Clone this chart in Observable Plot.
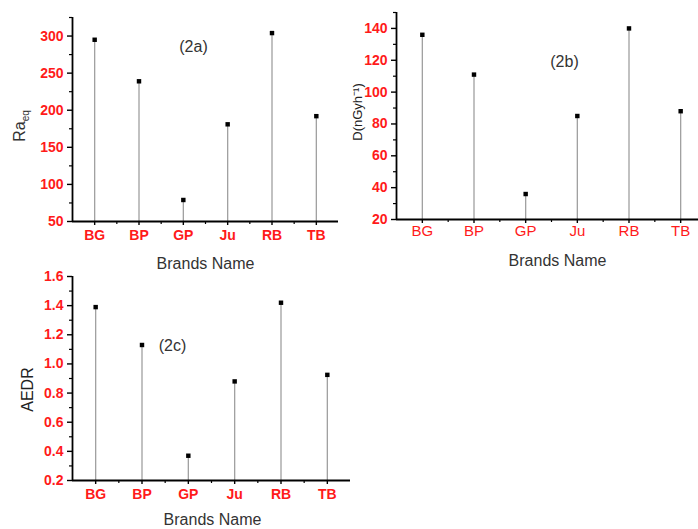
<!DOCTYPE html>
<html><head><meta charset="utf-8">
<script src="https://cdn.jsdelivr.net/npm/d3@7"></script>
<script src="https://cdn.jsdelivr.net/npm/@observablehq/plot@0.6"></script>
<style>
body{margin:0;background:#fff;}
#wrap{position:relative;width:698px;height:529px;overflow:hidden;background:#fff;}
#wrap svg{position:absolute;overflow:visible;}
</style></head><body><div id="wrap"></div>
<script>
const brands = ["BG","BP","GP","Ju","RB","TB"];
const raeq = [295, 239, 79, 181, 304, 192];
const doseRate = [136, 111, 36, 85, 140, 88];
const aedr = [1.39, 1.13, 0.37, 0.88, 1.42, 0.925];
const raTicks = [50, 100, 150, 200, 250, 300];
const doseTicks = [20, 40, 60, 80, 100, 120, 140];
const aedrTicks = [0.2, 0.4, 0.6, 0.8, 1.0, 1.2, 1.4, 1.6];

const FONT = "'Liberation Sans', Arial, Helvetica, sans-serif";
const RED = "#ff1a1a";
const wrap = document.getElementById("wrap");

function panel(o) {
  const data = brands.map((b, i) => ({i, b, v: o.values[i]}));
  const idx = brands.map((_, i) => i);
  const xMinor = brands.slice(1).map((_, i) => i + 0.5);
  const step = o.ticks[1] - o.ticks[0];
  const yMinor = o.ticks.map(t => +(t + step / 2).toFixed(6)).filter(t => t <= o.domain[1] + 1e-9);
  const marks = [
    Plot.ruleX(data, {x: "i", y1: o.domain[0], y2: "v", stroke: "#a0a0a0", strokeWidth: 1.3}),
    Plot.dot(data, {x: "i", y: "v", symbol: "square", r: 2.5, fill: "#000", stroke: "none"}),
    Plot.axisY({ticks: o.ticks, tickSize: 5, tickPadding: 4, tickFormat: o.yFmt, stroke: "#000", strokeWidth: 1.4,
      fill: RED, fontWeight: "bold", fontSize: 14, label: null}),
    Plot.axisY({ticks: yMinor, tickSize: 3, tickFormat: () => "", stroke: "#000", strokeWidth: 1.2, label: null}),
    Plot.axisX({ticks: idx, tickSize: 4, tickPadding: o.xPad, tickFormat: i => brands[i], stroke: "#000", strokeWidth: 1.4,
      fill: RED, fontWeight: o.xWeight, fontSize: o.xSize, label: null}),
    Plot.axisX({ticks: xMinor, tickSize: 3, tickFormat: () => "", stroke: "#000", strokeWidth: 1.2, label: null}),
    Plot.ruleY([o.domain[0]], {stroke: "#000", strokeWidth: 1.8}),
    Plot.ruleX([-0.5], {stroke: "#000", strokeWidth: 1.8}),
    Plot.text(["Brands Name"], {frameAnchor: "bottom", dx: o.bnDx, dy: o.bnDy, fontSize: 16, fill: "#333",
      textAnchor: "middle", lineAnchor: "middle"}),
    Plot.text([o.tag], {frameAnchor: "top-left", dx: o.tagX, dy: o.tagY, fontSize: 16, fill: "#333",
      textAnchor: "middle", lineAnchor: "middle"})
  ];
  if (o.yTitle) marks.push(Plot.text([o.yTitle], {frameAnchor: "left", dx: o.ytDx, dy: o.ytDy, rotate: -90,
    fontSize: o.ytSize, fill: "#222", textAnchor: "middle", lineAnchor: "middle"}));
  const svg = Plot.plot({
    width: o.width, height: o.height,
    marginLeft: o.ml, marginRight: o.mr, marginTop: o.mt, marginBottom: o.mb,
    style: {fontFamily: FONT, background: "transparent", overflow: "visible"},
    x: {type: "linear", domain: [-0.5, brands.length - 0.5], axis: null},
    y: {domain: o.domain, axis: null},
    marks
  });
  svg.style.left = o.left + "px";
  svg.style.top = o.top + "px";
  wrap.appendChild(svg);
  return svg;
}

const a = panel({values: raeq, domain: [50, 325], ticks: raTicks, yFmt: d3.format("d"),
  left: 0, top: 0, width: 350, height: 275, ml: 72, mr: 12, mt: 17, mb: 54,
  xPad: 5, xWeight: "bold", xSize: 14, bnDx: 0, bnDy: 42, tag: "(2a)", tagX: 121, tagY: 29});
// Ra_eq title with subscript
d3.select(a).append("text")
  .attr("transform", "translate(25,126) rotate(-90)")
  .attr("text-anchor", "middle")
  .attr("font-family", FONT).attr("font-size", 16).attr("fill", "#333")
  .call(t => { t.append("tspan").text("Ra"); t.append("tspan").attr("dy", 4).attr("font-size", 10).text("eq"); });

panel({values: doseRate, domain: [20, 150], ticks: doseTicks, yFmt: d3.format("d"),
  left: 350, top: 0, width: 356, height: 275, ml: 46, mr: 0, mt: 12, mb: 56,
  xPad: 2, xWeight: "normal", xSize: 15, bnDx: 6, bnDy: 41, tag: "(2b)", tagX: 168, tagY: 49,
  yTitle: "D(nGyh\u207B\u00B9)", ytDx: -39, ytDy: -4, ytSize: 13});

panel({values: aedr, domain: [0.2, 1.6], ticks: aedrTicks, yFmt: d3.format(".1f"),
  left: 0, top: 260, width: 360, height: 269, ml: 72, mr: 10, mt: 16, mb: 49,
  xPad: 5, xWeight: "bold", xSize: 14, bnDx: 1, bnDy: 39, tag: "(2c)", tagX: 100, tagY: 69,
  yTitle: "AEDR", ytDx: -45, ytDy: 11, ytSize: 16});
</script></body></html>
